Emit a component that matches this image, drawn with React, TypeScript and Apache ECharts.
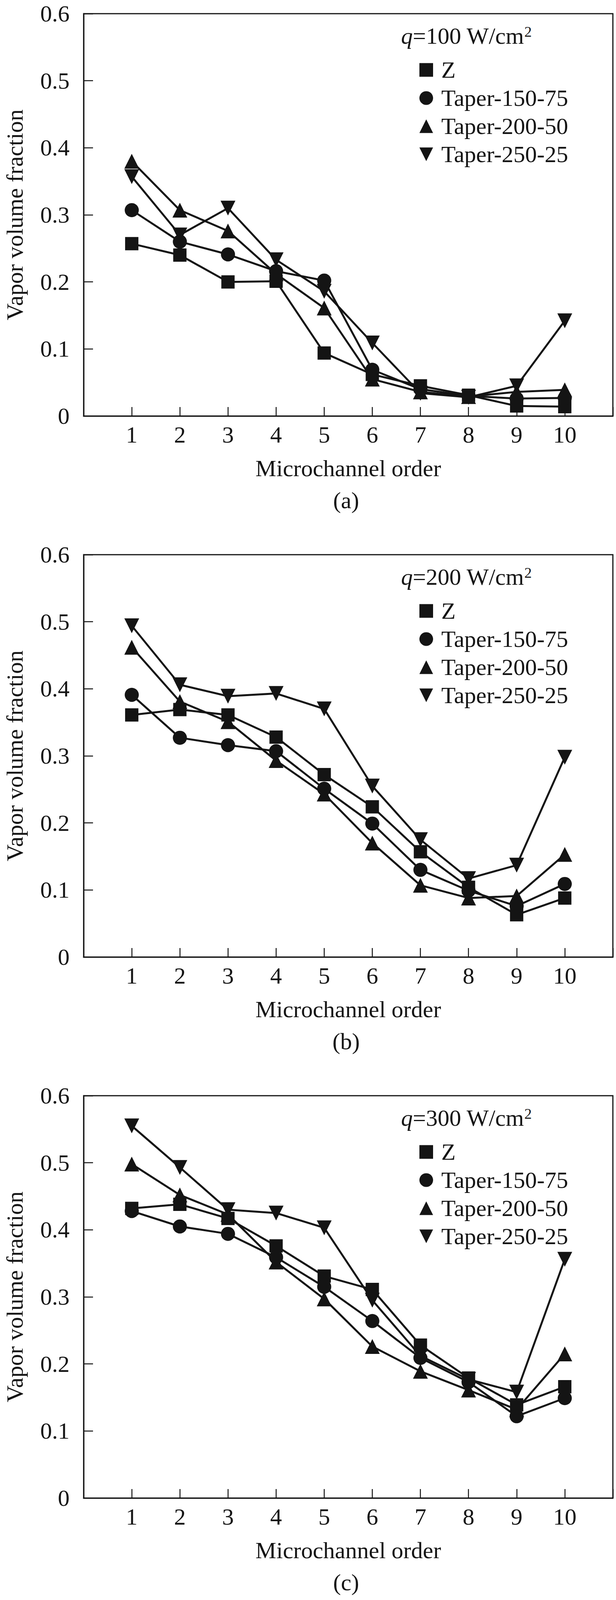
import React, { useEffect, useRef } from "react";
import * as echarts from "echarts";

// ---------- data ----------
const ORDER = [1, 2, 3, 4, 5, 6, 7, 8, 9, 10];
const SERIES_NAMES = ["Z", "Taper-150-75", "Taper-200-50", "Taper-250-25"];
const PANEL_LABELS = ["(a)", "(b)", "(c)"];
const HEAT_FLUX = ["100", "200", "300"];
const Y_TICKS = [0, 0.1, 0.2, 0.3, 0.4, 0.5, 0.6];

// q = 100 W/cm2
const A_Z = [0.257, 0.240, 0.200, 0.201, 0.094, 0.062, 0.045, 0.031, 0.015, 0.014];
const A_T150 = [0.307, 0.260, 0.241, 0.216, 0.202, 0.069, 0.040, 0.030, 0.026, 0.027];
const A_T200 = [0.380, 0.307, 0.276, 0.212, 0.161, 0.055, 0.036, 0.029, 0.036, 0.039];
const A_T250 = [0.357, 0.270, 0.310, 0.233, 0.186, 0.109, 0.034, 0.028, 0.045, 0.142];

// q = 200 W/cm2
const B_Z = [0.361, 0.369, 0.361, 0.328, 0.272, 0.224, 0.157, 0.104, 0.063, 0.088];
const B_T150 = [0.391, 0.327, 0.316, 0.307, 0.251, 0.199, 0.130, 0.099, 0.076, 0.109];
const B_T200 = [0.462, 0.381, 0.351, 0.293, 0.243, 0.170, 0.107, 0.088, 0.091, 0.153];
const B_T250 = [0.494, 0.406, 0.389, 0.393, 0.370, 0.255, 0.175, 0.117, 0.137, 0.298];

// q = 300 W/cm2
const C_Z = [0.432, 0.438, 0.417, 0.376, 0.331, 0.311, 0.228, 0.179, 0.139, 0.166];
const C_T150 = [0.428, 0.405, 0.394, 0.359, 0.315, 0.264, 0.209, 0.173, 0.122, 0.149];
const C_T200 = [0.498, 0.452, 0.423, 0.352, 0.297, 0.226, 0.189, 0.161, 0.132, 0.215];
const C_T250 = [0.555, 0.493, 0.430, 0.425, 0.403, 0.295, 0.212, 0.177, 0.158, 0.356];

const PANELS = [
  [A_Z, A_T150, A_T200, A_T250],
  [B_Z, B_T150, B_T200, B_T250],
  [C_Z, C_T150, C_T200, C_T250],
];

// ---------- style / layout ----------
const W = 1576;
const H = 4388;
const INK = "#141414";
const FONT = '"Times New Roman", "Liberation Serif", serif';
const FS = 60;
const PANEL_TOPS = [35, 1420, 2805];
const GRID_LEFT = 203;
const GRID_W = 1365;
const GRID_H = 1030;
const DOWN_TRI = "path://M0,0L10,0L5,10Z";
const SYMBOLS = ["rect", "circle", "triangle", DOWN_TRI];
const SYMBOL_SIZES = [34, 36, 38, 38];

function buildOption() {
  const grid: any[] = [];
  const xAxis: any[] = [];
  const yAxis: any[] = [];
  const series: any[] = [];
  const legend: any[] = [];
  const graphic: any[] = [];

  PANELS.forEach((panel, p) => {
    const top = PANEL_TOPS[p];
    grid.push({
      left: GRID_LEFT,
      top,
      width: GRID_W,
      height: GRID_H,
      show: true,
      borderColor: INK,
      borderWidth: 3,
      backgroundColor: "transparent",
    });
    xAxis.push({
      gridIndex: p,
      type: "value",
      min: 0,
      max: 11,
      interval: 1,
      name: "Microchannel order",
      nameLocation: "middle",
      nameGap: 104,
      nameTextStyle: { fontSize: FS, fontFamily: FONT, color: INK },
      axisLine: { show: true, lineStyle: { color: INK, width: 3 } },
      axisTick: { show: true, inside: true, length: 23, lineStyle: { color: INK, width: 2.5 } },
      axisLabel: {
        margin: 18,
        fontSize: FS,
        fontFamily: FONT,
        color: INK,
        formatter: (v: number) => (ORDER.indexOf(v) >= 0 ? String(v) : ""),
      },
      splitLine: { show: false },
    });
    yAxis.push({
      gridIndex: p,
      type: "value",
      min: Y_TICKS[0],
      max: Y_TICKS[Y_TICKS.length - 1],
      interval: 0.1,
      name: "Vapor volume fraction",
      nameLocation: "middle",
      nameGap: 146,
      nameTextStyle: { fontSize: FS, fontFamily: FONT, color: INK },
      axisLine: { show: true, lineStyle: { color: INK, width: 3 } },
      axisTick: { show: true, inside: true, length: 24, lineStyle: { color: INK, width: 2.5 } },
      axisLabel: {
        margin: 36,
        fontSize: FS,
        fontFamily: FONT,
        color: INK,
        formatter: (v: number) => (Math.abs(v) < 1e-9 ? "0" : v.toFixed(1)),
      },
      splitLine: { show: false },
    });
    panel.forEach((vals, s) => {
      series.push({
        name: SERIES_NAMES[s],
        type: "line",
        xAxisIndex: p,
        yAxisIndex: p,
        data: ORDER.map((x, i) => [x, vals[i]]),
        symbol: SYMBOLS[s],
        symbolSize: SYMBOL_SIZES[s],
        showAllSymbol: true,
        lineStyle: { color: INK, width: 5 },
        itemStyle: { color: INK, borderWidth: 0 },
        emphasis: { disabled: true },
      });
    });
    legend.push({
      orient: "vertical",
      left: 1073,
      top: top + 114,
      itemWidth: 35,
      itemHeight: 35,
      itemGap: 12,
      selectedMode: false,
      padding: 0,
      textStyle: {
        fontSize: FS,
        fontFamily: FONT,
        color: INK,
        lineHeight: 56,
        padding: [0, 0, 0, 16],
      },
      itemStyle: { color: INK, borderWidth: 0 },
      data: SERIES_NAMES.map((n, s) => ({ name: n, icon: SYMBOLS[s] })),
    });
    graphic.push({
      type: "text",
      x: 1026,
      y: top + 57,
      silent: true,
      style: {
        text: "{i|q}{n|=" + HEAT_FLUX[p] + " W/cm}{s|2}",
        textVerticalAlign: "middle",
        textAlign: "left",
        fill: INK,
        rich: {
          i: { fontSize: FS, fontFamily: FONT, fontStyle: "italic", fill: INK, lineHeight: 60 },
          n: { fontSize: FS, fontFamily: FONT, fill: INK, lineHeight: 60 },
          s: { fontSize: 38, fontFamily: FONT, fill: INK, verticalAlign: "top", lineHeight: 40 },
        },
      },
    });
    graphic.push({
      type: "text",
      x: GRID_LEFT + GRID_W / 2,
      y: top + 1246,
      silent: true,
      style: {
        text: PANEL_LABELS[p],
        fontSize: FS,
        fontFamily: FONT,
        fill: INK,
        textAlign: "center",
        textVerticalAlign: "middle",
      },
    });
  });

  return {
    animation: false,
    backgroundColor: "#ffffff",
    grid,
    xAxis,
    yAxis,
    series,
    legend,
    graphic,
  };
}

export default function App() {
  const ref = useRef<HTMLDivElement>(null);
  useEffect(() => {
    if (!ref.current) return;
    const chart = echarts.init(ref.current, undefined, { renderer: "svg", width: W, height: H });
    chart.setOption(buildOption() as any);
    return () => chart.dispose();
  }, []);
  return (
    <div
      ref={ref}
      style={{ position: "absolute", left: 0, top: 0, width: W, height: H, background: "#fff" }}
    />
  );
}
